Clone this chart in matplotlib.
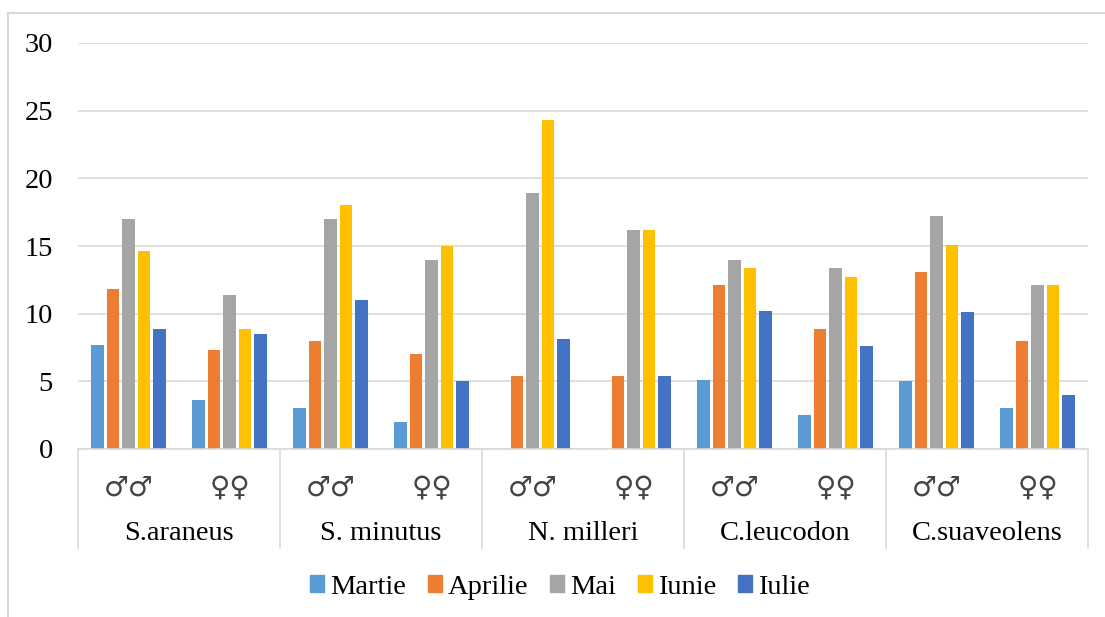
import matplotlib
matplotlib.use("Agg")
import matplotlib.pyplot as plt
import numpy as np
from matplotlib.patches import Patch
from matplotlib.lines import Line2D

plt.rcParams["font.family"] = ["Liberation Serif", "DejaVu Serif", "DejaVu Sans"]

species = ["S.araneus", "S. minutus", "N. milleri", "C.leucodon", "C.suaveolens"]
sexes = ["\u2642\u2642", "\u2640\u2640"]
months = ["Martie", "Aprilie", "Mai", "Iunie", "Iulie"]
colors = ["#5B9BD5", "#ED7D31", "#A5A5A5", "#FFC000", "#4472C4"]

# one value per category: (S.araneus m, f, S.minutus m, f, N.milleri m, f, C.leucodon m, f, C.suaveolens m, f)
martie  = [7.7, 3.6, 3.0, 2.0, 0.0, 0.0, 5.1, 2.5, 5.0, 3.0]
aprilie = [11.8, 7.3, 8.0, 7.0, 5.4, 5.4, 12.1, 8.9, 13.1, 8.0]
mai     = [17.0, 11.4, 17.0, 14.0, 18.9, 16.2, 14.0, 13.4, 17.2, 12.1]
iunie   = [14.6, 8.9, 18.0, 15.0, 24.3, 16.2, 13.4, 12.7, 15.1, 12.1]
iulie   = [8.9, 8.5, 11.0, 5.0, 8.1, 5.4, 10.2, 7.6, 10.1, 4.0]
series = [martie, aprilie, mai, iunie, iulie]

W, H = 1105, 617
fig = plt.figure(figsize=(W / 100, H / 100), dpi=100)
ax = fig.add_axes([78 / W, 1 - 449 / H, (1088 - 78) / W, (449 - 43) / H])

x = np.arange(len(martie))
pitch = 0.153
for i, (vals, c) in enumerate(zip(series, colors)):
    ax.bar(x + (i - 2) * pitch, vals, width=0.125, color=c, zorder=3, label=months[i])

ax.set_xlim(-0.5, 9.5)
ax.set_ylim(0, 30)
ax.set_yticks(range(0, 31, 5))
ax.tick_params(axis="y", length=0, pad=18, labelsize=20.5)
ax.set_xticks([])
ax.yaxis.grid(True, color="#d9d9d9", lw=1.2, zorder=0)
for s in ax.spines.values():
    s.set_visible(False)

# category axis box
tr = ax.get_xaxis_transform()
gc = "#d9d9d9"
ax.plot([-0.5, 9.5], [0, 0], color=gc, lw=1.2, transform=tr, clip_on=False, zorder=4)
for b in [-0.5, 1.5, 3.5, 5.5, 7.5, 9.5]:
    ax.plot([b, b], [0, -0.244], color=gc, lw=1.2, transform=tr, clip_on=False)
for k in range(len(martie)):
    ax.text(k, -0.094, sexes[k % 2], transform=tr, ha="center", va="center",
            fontsize=20, family=["DejaVu Sans", "DejaVu Serif"], color="#444444")
for j, sp in enumerate(species):
    ax.text(2 * j + 0.5, -0.207, sp, transform=tr, ha="center", va="center", fontsize=20.5)

# outer chart border (cropped at right and bottom)
fig.add_artist(Line2D([8 / W, 1], [1 - 13 / H, 1 - 13 / H], color=gc, lw=1.5))
fig.add_artist(Line2D([8 / W, 8 / W], [0, 1 - 13 / H], color=gc, lw=1.5))

handles = [Patch(color=c) for c in colors]
fig.legend(handles, months, loc="center", bbox_to_anchor=(560 / W, 1 - 587 / H), ncol=5,
           frameon=False, fontsize=20.5, handlelength=0.5, handleheight=0.5,
           handletextpad=0.22, columnspacing=0.75, borderaxespad=0)

fig.savefig("out.png", dpi=100)
